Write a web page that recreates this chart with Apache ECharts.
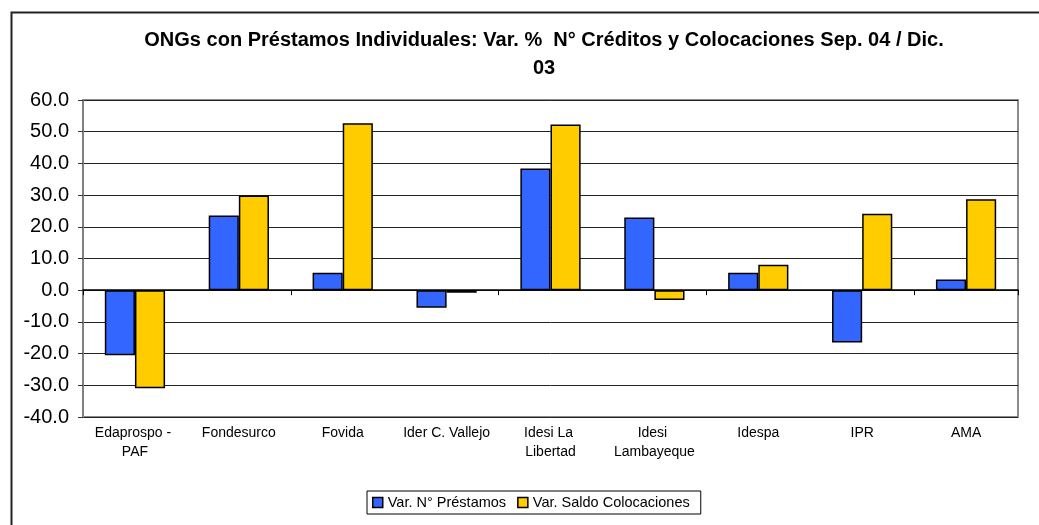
<!DOCTYPE html>
<html>
<head>
<meta charset="utf-8">
<script src="https://cdn.jsdelivr.net/npm/echarts@6/dist/echarts.min.js"></script>
<style>
html,body{margin:0;padding:0;background:#fff;}
#chart{width:1039px;height:525px;}
</style>
</head>
<body>
<div id="chart"></div>
<script>
const titleText = 'ONGs con Préstamos Individuales: Var. %  N° Créditos y Colocaciones Sep. 04 / Dic.\n03';
const categories = ['Edaprospo - PAF', 'Fondesurco', 'Fovida', 'Ider C. Vallejo', 'Idesi La Libertad', 'Idesi Lambayeque', 'Idespa', 'IPR', 'AMA'];
const seriesNames = ['Var. N° Préstamos', 'Var. Saldo Colocaciones'];
const varPrestamos = [-20.5, 23.6, 5.5, -5.5, 38.4, 22.9, 5.5, -16.5, 3.4];
const varColocaciones = [-30.9, 29.9, 52.7, -0.8, 52.3, -3.1, 8.0, 24.1, 28.7];
const yMin = -40, yMax = 60, yStep = 10;

const FONT = '"Liberation Sans", Arial, sans-serif';
const chart = echarts.init(document.getElementById('chart'), null, {renderer: 'canvas'});
chart.setOption({
  animation: false,
  backgroundColor: '#fff',
  textStyle: {fontFamily: FONT, color: '#000'},
  graphic: [
    {type: 'rect', left: 9, top: 10, shape: {width: 1100, height: 600}, style: {fill: 'none', stroke: '#222', lineWidth: 2}, silent: true, z: -10},
    {type: 'text', x: 544, y: 26, style: {text: titleText, fontFamily: FONT, fontSize: 20, fontWeight: 'bold', fill: '#000', align: 'center', verticalAlign: 'top', lineHeight: 28}, z: 10}
  ],
  grid: {left: 83, right: 21, top: 100, bottom: 108, show: true, borderColor: '#8c8c8c', borderWidth: 2, containLabel: false},
  legend: {
    data: seriesNames,
    left: 367, top: 491,
    padding: [4, 11, 4, 5],
    borderColor: '#000', borderWidth: 1,
    itemWidth: 10, itemHeight: 10, itemGap: 11,
    icon: 'rect',
    itemStyle: {borderColor: '#000', borderWidth: 1.5},
    textStyle: {fontFamily: FONT, fontSize: 14.5, color: '#000'}
  },
  xAxis: [
    {
      type: 'category', data: categories, position: 'bottom',
      axisLine: {show: false, onZero: false},
      axisTick: {show: false},
      axisLabel: {fontFamily: FONT, fontSize: 14, color: '#000', margin: 7, lineHeight: 19, width: 96, overflow: 'break', interval: 0}
    },
    {
      type: 'category', data: categories, position: 'top',
      axisLine: {show: true, onZero: true, lineStyle: {color: '#000', width: 1.5}},
      axisTick: {show: true, inside: true, length: 5, lineStyle: {color: '#000'}},
      axisLabel: {show: false},
      splitLine: {show: false}
    }
  ],
  yAxis: {
    type: 'value', min: yMin, max: yMax, interval: yStep,
    axisLine: {show: true, lineStyle: {color: '#808080', width: 2}},
    axisTick: {show: true, length: 5, lineStyle: {color: '#333'}},
    axisLabel: {fontFamily: FONT, fontSize: 20, color: '#000', margin: 14, formatter: v => v.toFixed(1)},
    splitLine: {show: true, lineStyle: {color: '#222', width: 1}}
  },
  series: [
    {name: seriesNames[0], type: 'bar', xAxisIndex: 0, data: varPrestamos, barGap: '0%', barCategoryGap: '42%',
     itemStyle: {color: '#3366FF', borderColor: '#000', borderWidth: 1.5}},
    {name: seriesNames[1], type: 'bar', xAxisIndex: 0, data: varColocaciones, barGap: '0%', barCategoryGap: '42%',
     itemStyle: {color: '#FFCC00', borderColor: '#000', borderWidth: 1.5}}
  ]
});
</script>
</body>
</html>
